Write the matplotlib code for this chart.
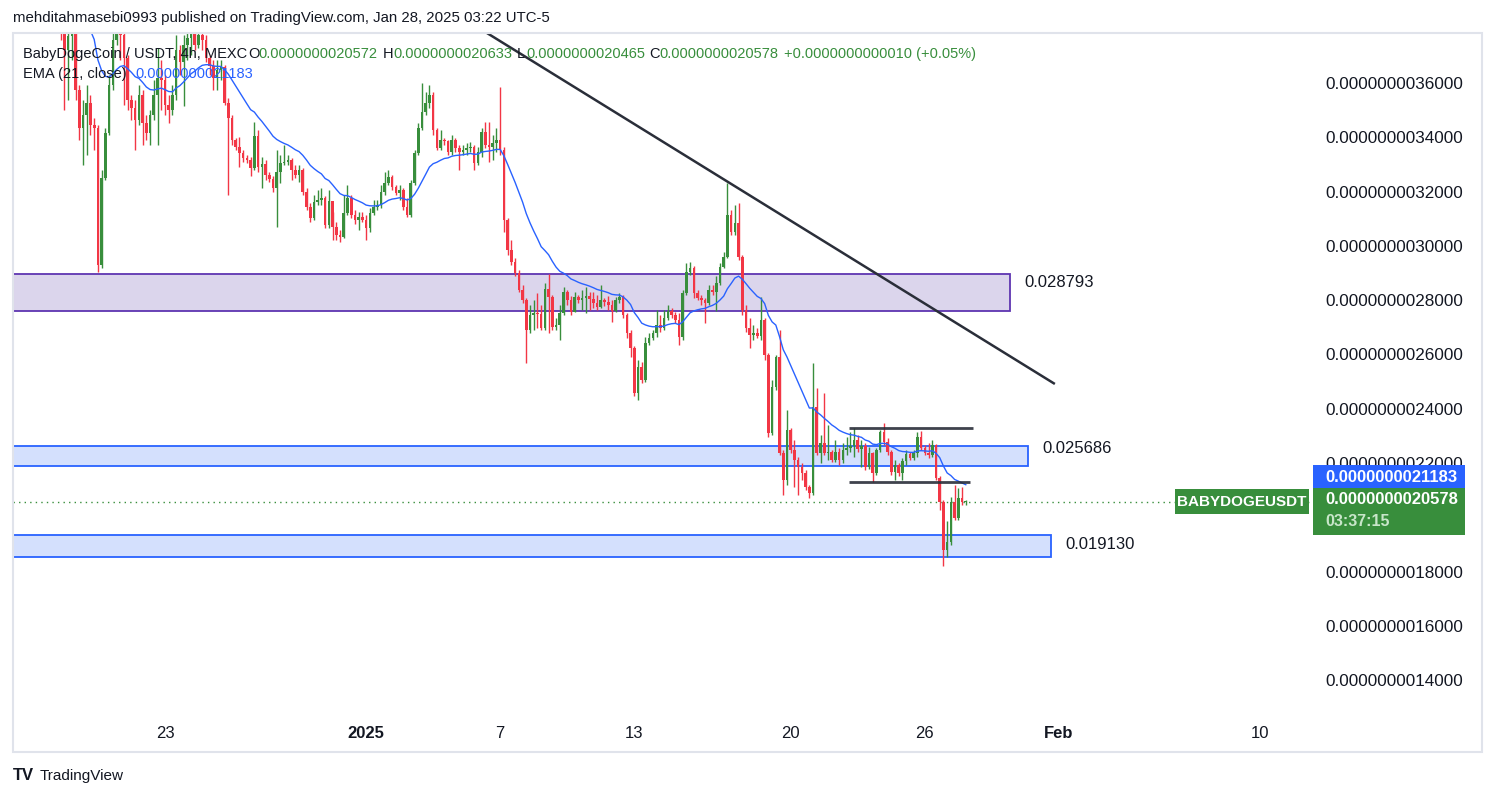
import numpy as np
import pandas as pd
import matplotlib
matplotlib.use("Agg")
import matplotlib.pyplot as plt
import matplotlib.dates as mdates
from matplotlib.patches import Rectangle

plt.rcParams["font.family"] = ["Liberation Sans", "DejaVu Sans"]

# ------------------------------------------------------------
# Data: BabyDogeCoin / USDT, 4h candles (prices in units of 1e-9 USDT)
first_candle = "2024-12-18 08:00"
open0 = 3.814
close = [
    3.795, 3.722, 3.773, 3.788, 3.574, 3.434, 3.482, 3.526, 3.445, 3.434,
    2.929, 3.250, 3.416, 3.593, 3.758, 3.803, 3.777, 3.692, 3.537, 3.508,
    3.464, 3.556, 3.453, 3.416, 3.482, 3.556, 3.618, 3.611, 3.519, 3.501,
    3.556, 3.722, 3.677, 3.740, 3.766, 3.788, 3.740, 3.777, 3.758, 3.692,
    3.663, 3.618, 3.648, 3.659, 3.526, 3.471, 3.390, 3.364, 3.342, 3.324,
    3.316, 3.287, 3.405, 3.291, 3.302, 3.261, 3.246, 3.213, 3.272, 3.305,
    3.309, 3.316, 3.279, 3.261, 3.279, 3.198, 3.143, 3.103, 3.162, 3.169,
    3.176, 3.077, 3.165, 3.069, 3.040, 3.033, 3.121, 3.176, 3.114, 3.095,
    3.106, 3.095, 3.066, 3.121, 3.143, 3.150, 3.198, 3.232, 3.254, 3.217,
    3.195, 3.206, 3.143, 3.114, 3.232, 3.342, 3.434, 3.493, 3.526, 3.556,
    3.427, 3.361, 3.390, 3.386, 3.346, 3.390, 3.361, 3.346, 3.353, 3.361,
    3.364, 3.305, 3.346, 3.419, 3.372, 3.364, 3.379, 3.390, 3.353, 3.095,
    2.985, 2.940, 2.900, 2.837, 2.800, 2.690, 2.745, 2.753, 2.749, 2.697,
    2.841, 2.812, 2.701, 2.708, 2.753, 2.830, 2.800, 2.756, 2.812, 2.800,
    2.808, 2.815, 2.804, 2.789, 2.775, 2.800, 2.793, 2.782, 2.760, 2.800,
    2.812, 2.745, 2.679, 2.624, 2.458, 2.554, 2.506, 2.642, 2.660, 2.679,
    2.708, 2.697, 2.734, 2.760, 2.745, 2.727, 2.664, 2.826, 2.904, 2.918,
    2.826, 2.808, 2.800, 2.789, 2.837, 2.830, 2.863, 2.922, 2.959, 3.114,
    3.051, 3.084, 2.959, 2.764, 2.697, 2.672, 2.679, 2.668, 2.727, 2.598,
    2.310, 2.480, 2.591, 2.237, 2.137, 2.321, 2.248, 2.211, 2.185, 2.163,
    2.111, 2.089, 2.406, 2.237, 2.274, 2.237, 2.240, 2.211, 2.240, 2.211,
    2.248, 2.255, 2.262, 2.285, 2.251, 2.262, 2.185, 2.237, 2.163, 2.248,
    2.314, 2.277, 2.240, 2.167, 2.192, 2.163, 2.207, 2.233, 2.218, 2.237,
    2.296, 2.255, 2.237, 2.229, 2.266, 2.145, 2.056, 1.879, 1.909, 2.056,
    1.997, 2.071, 2.0572, 2.0578,
]
high = [
    3.832, 3.803, 3.814, 3.825, 3.795, 3.593, 3.537, 3.593, 3.556, 3.471,
    3.445, 3.279, 3.434, 3.629, 3.795, 3.832, 3.814, 3.788, 3.703, 3.556,
    3.537, 3.593, 3.574, 3.482, 3.501, 3.611, 3.729, 3.685, 3.629, 3.556,
    3.593, 3.777, 3.740, 3.777, 3.795, 3.814, 3.803, 3.795, 3.795, 3.777,
    3.703, 3.685, 3.685, 3.685, 3.666, 3.545, 3.482, 3.397, 3.401, 3.353,
    3.335, 3.327, 3.456, 3.427, 3.327, 3.316, 3.272, 3.257, 3.353, 3.335,
    3.372, 3.335, 3.324, 3.298, 3.298, 3.287, 3.213, 3.158, 3.187, 3.206,
    3.213, 3.184, 3.206, 3.125, 3.088, 3.058, 3.187, 3.224, 3.187, 3.132,
    3.125, 3.125, 3.114, 3.139, 3.169, 3.169, 3.224, 3.272, 3.279, 3.261,
    3.224, 3.224, 3.213, 3.176, 3.243, 3.353, 3.453, 3.600, 3.567, 3.593,
    3.567, 3.434, 3.427, 3.397, 3.390, 3.408, 3.397, 3.372, 3.372, 3.379,
    3.383, 3.372, 3.364, 3.434, 3.456, 3.456, 3.408, 3.434, 3.585, 3.364,
    3.103, 3.021, 2.955, 2.911, 2.856, 2.808, 2.782, 2.800, 2.826, 2.782,
    2.863, 2.896, 2.819, 2.734, 2.782, 2.848, 2.837, 2.815, 2.830, 2.819,
    2.837, 2.848, 2.830, 2.830, 2.819, 2.856, 2.808, 2.815, 2.800, 2.812,
    2.826, 2.819, 2.753, 2.690, 2.631, 2.579, 2.572, 2.664, 2.679, 2.690,
    2.764, 2.745, 2.764, 2.782, 2.771, 2.756, 2.753, 2.837, 2.937, 2.940,
    2.926, 2.837, 2.819, 2.808, 2.856, 2.856, 2.889, 2.937, 2.977, 3.232,
    3.132, 3.150, 3.158, 2.966, 2.782, 2.734, 2.708, 2.697, 2.812, 2.734,
    2.605, 2.506, 2.598, 2.690, 2.248, 2.395, 2.329, 2.285, 2.222, 2.200,
    2.174, 2.119, 2.568, 2.476, 2.303, 2.458, 2.340, 2.248, 2.285, 2.255,
    2.274, 2.296, 2.314, 2.329, 2.303, 2.285, 2.274, 2.259, 2.240, 2.255,
    2.321, 2.347, 2.292, 2.248, 2.211, 2.200, 2.218, 2.248, 2.240, 2.248,
    2.314, 2.318, 2.266, 2.274, 2.285, 2.270, 2.152, 2.064, 1.986, 2.075,
    2.119, 2.108, 2.111, 2.0633,
]
low = [
    3.758, 3.501, 3.537, 3.685, 3.537, 3.390, 3.298, 3.335, 3.408, 3.353,
    2.904, 2.918, 3.243, 3.408, 3.574, 3.740, 3.685, 3.519, 3.501, 3.464,
    3.353, 3.445, 3.372, 3.390, 3.372, 3.464, 3.372, 3.501, 3.482, 3.453,
    3.482, 3.537, 3.629, 3.515, 3.685, 3.703, 3.722, 3.729, 3.722, 3.677,
    3.629, 3.574, 3.574, 3.611, 3.519, 3.187, 3.372, 3.353, 3.291, 3.309,
    3.305, 3.257, 3.279, 3.272, 3.213, 3.243, 3.235, 3.198, 3.069, 3.232,
    3.298, 3.298, 3.243, 3.250, 3.235, 3.187, 3.132, 3.088, 3.095, 3.150,
    3.150, 3.066, 3.066, 3.021, 3.021, 3.014, 3.029, 3.114, 3.103, 3.080,
    3.058, 3.088, 3.021, 3.051, 3.114, 3.132, 3.139, 3.187, 3.224, 3.206,
    3.187, 3.169, 3.132, 3.106, 3.106, 3.224, 3.335, 3.427, 3.482, 3.508,
    3.408, 3.353, 3.353, 3.372, 3.335, 3.335, 3.346, 3.279, 3.335, 3.335,
    3.346, 3.279, 3.298, 3.327, 3.361, 3.309, 3.316, 3.346, 3.335, 3.051,
    2.966, 2.929, 2.889, 2.830, 2.789, 2.568, 2.679, 2.690, 2.697, 2.690,
    2.690, 2.679, 2.690, 2.690, 2.653, 2.745, 2.782, 2.745, 2.756, 2.789,
    2.764, 2.753, 2.764, 2.771, 2.764, 2.771, 2.778, 2.764, 2.719, 2.756,
    2.789, 2.734, 2.660, 2.591, 2.447, 2.432, 2.495, 2.498, 2.635, 2.653,
    2.664, 2.683, 2.690, 2.727, 2.734, 2.716, 2.635, 2.653, 2.819, 2.893,
    2.808, 2.800, 2.782, 2.716, 2.782, 2.819, 2.760, 2.856, 2.918, 2.955,
    3.040, 3.040, 2.948, 2.745, 2.683, 2.624, 2.653, 2.660, 2.653, 2.579,
    2.296, 2.303, 2.469, 2.229, 2.082, 2.119, 2.237, 2.111, 2.082, 2.137,
    2.100, 2.071, 2.082, 2.229, 2.200, 2.229, 2.211, 2.203, 2.203, 2.192,
    2.200, 2.229, 2.240, 2.222, 2.240, 2.185, 2.174, 2.178, 2.130, 2.156,
    2.240, 2.266, 2.229, 2.156, 2.137, 2.152, 2.137, 2.192, 2.211, 2.211,
    2.222, 2.248, 2.229, 2.218, 2.222, 2.137, 2.027, 1.820, 1.854, 1.898,
    1.990, 1.990, 2.045, 2.0465,
]

ema_length = 21
ema_start = 4.05          # EMA value at the first candle (above the visible area)
ema_last_label = "0.0000000021183"

# zones drawn on the chart: (bottom, top, right edge, label, label price)
zones = [
    (2.760, 2.896, "2025-01-29 19:30", "0.028793", 2.865, "#dbd5ec", "#5e35b1"),
    (2.189, 2.262, "2025-01-30 15:00", "0.025686", 2.252, "#d4e0fd", "#2962ff"),
    (1.853, 1.935, "2025-01-31 15:30", "0.019130", 1.898, "#d4e0fd", "#2962ff"),
]
# trend line and range lines
trend_x = ["2025-01-05 15:30", "2025-01-31 19:40"]
trend_y = [3.823, 2.491]
range_top = (2.329, "2025-01-22 14:30", "2025-01-28 03:30")
range_bot = (2.130, "2025-01-22 14:30", "2025-01-28 00:45")

# 0.0000000020000 sits under the last-price label, so it is not shown
price_ticks = [1.4, 1.6, 1.8, 2.2, 2.4, 2.6, 2.8, 3.0, 3.2, 3.4, 3.6]
time_ticks = ["2024-12-23", "2025-01-01", "2025-01-07", "2025-01-13",
              "2025-01-20", "2025-01-26", "2025-02-01", "2025-02-10"]
time_labels = ["23", "2025", "7", "13", "20", "26", "Feb", "10"]

# ------------------------------------------------------------
GREEN = "#388e3c"
RED = "#f23645"
BLUE = "#2962ff"
TXT = "#131722"
W, H = 1495, 798


def px(x, y):
    return x / W, 1 - y / H


times = pd.date_range(first_candle, periods=len(close), freq="4h")
t = mdates.date2num(times)
c = np.array(close)
o = np.concatenate([[open0], c[:-1]])
hi = np.array(high)
lo = np.array(low)
up = c >= o
cols = np.where(up, GREEN, RED)

alpha = 2 / (ema_length + 1)
ema = [ema_start]
for v in c[1:]:
    ema.append(ema[-1] + alpha * (v - ema[-1]))

fig = plt.figure(figsize=(W / 100, H / 100), dpi=100)
fig.patch.set_facecolor("white")
ax = fig.add_axes([13 / W, 80 / H, 1300 / W, 685 / H])
for s in ax.spines.values():
    s.set_visible(False)

# zones
x_left = mdates.date2num(pd.Timestamp("2024-12-01"))
for bot, top, right, lab, lab_y, fc, ec in zones:
    xr = mdates.date2num(pd.Timestamp(right))
    ax.add_patch(Rectangle((x_left, bot), xr - x_left, top - bot,
                           facecolor=fc, edgecolor=ec, lw=1.3, zorder=1))
    ax.text(xr + 0.65, lab_y, lab, fontsize=12, color=TXT, va="center", ha="left", zorder=6)

# candles
bw = 0.7 / 6
ax.vlines(t, lo, hi, colors=cols, lw=1.0, zorder=2)
ax.bar(t, np.maximum(np.abs(c - o), 0.004), bottom=np.minimum(o, c), width=bw,
       color=cols, zorder=3, linewidth=0)

# EMA
ax.plot(t, ema, color=BLUE, lw=1.0, zorder=4)

# trend line + range
ax.plot(mdates.date2num(pd.to_datetime(trend_x)), trend_y, color="#2a2e39", lw=1.8, zorder=5,
        solid_capstyle="butt")
for lvl, a, b in (range_top, range_bot):
    ax.plot(mdates.date2num(pd.to_datetime([a, b])), [lvl, lvl], color="#2a2e39", lw=2.0,
            alpha=0.9, zorder=5, solid_capstyle="butt")

# last price dotted line
ax.axhline(close[-1], color=GREEN, lw=1.0, ls=(0, (1, 3)), zorder=2)

ax.set_xlim(mdates.date2num(pd.Timestamp("2025-01-01")) - 15.80,
            mdates.date2num(pd.Timestamp("2025-01-01")) + 42.37)
ax.set_ylim(1.2603, 3.7842)

ax.yaxis.tick_right()
ax.set_yticks(price_ticks)
ax.set_yticklabels([f"{v * 1e-9:.13f}" for v in price_ticks])
ax.tick_params(axis="y", length=0, pad=8.6, labelsize=12.3, labelcolor=TXT)
ax.set_xticks(mdates.date2num(pd.to_datetime(time_ticks)))
ax.set_xticklabels(time_labels)
ax.tick_params(axis="x", length=0, pad=6, labelsize=12, labelcolor=TXT)
for lab in ax.get_xticklabels():
    if lab.get_text() in ("2025", "Feb"):
        lab.set_fontweight("bold")

# frame around the chart
fig.patches.append(Rectangle(px(13, 752), 1469 / W, 719 / H, transform=fig.transFigure,
                             fill=False, edgecolor="#e0e3eb", lw=1.5, zorder=0))

# header
fig.text(*px(13, 18), "mehditahmasebi0993 published on TradingView.com, Jan 28, 2025 03:22 UTC-5",
         fontsize=10.8, color=TXT, va="center")

# legend
legend = [
    (23, "BabyDogeCoin / USDT, 4h, MEXC", TXT), (248, "O", TXT), (258, "0.0000000020572", GREEN),
    (383, "H", TXT), (393, "0.0000000020633", GREEN), (517, "L", TXT), (526, "0.0000000020465", GREEN),
    (649, "C", TXT), (659, "0.0000000020578", GREEN), (784, "+0.0000000000010 (+0.05%)", GREEN),
]
for x, s, col in legend:
    fig.text(*px(x, 54), s, fontsize=10.5, color=col, va="center", zorder=10)
fig.text(*px(23, 74), "EMA (21, close)", fontsize=10.5, color=TXT, va="center", zorder=10)
fig.text(*px(135, 74), ema_last_label, fontsize=10.5, color=BLUE, va="center", zorder=10)

# price scale labels
fig.patches.append(Rectangle(px(1313, 488), 152 / W, 23 / H, transform=fig.transFigure,
                             facecolor=BLUE, edgecolor="none", zorder=5))
fig.text(*px(1325, 477), ema_last_label, fontsize=12, color="white", fontweight="bold",
         va="center", zorder=6)
fig.patches.append(Rectangle(px(1313, 535), 152 / W, 47 / H, transform=fig.transFigure,
                             facecolor=GREEN, edgecolor="none", zorder=5))
fig.text(*px(1325, 499), f"{close[-1] * 1e-9:.13f}", fontsize=12, color="white",
         fontweight="bold", va="center", zorder=6)
fig.text(*px(1325, 522), "03:37:15", fontsize=11.5, color="#c8e6c9", fontweight="bold",
         va="center", zorder=6)
fig.patches.append(Rectangle(px(1175, 514), 134 / W, 25 / H, transform=fig.transFigure,
                             facecolor=GREEN, edgecolor="none", zorder=5))
fig.text(*px(1242, 502), "BABYDOGEUSDT", fontsize=11, color="white", fontweight="bold",
         va="center", ha="center", zorder=6)

# footer logo
fig.text(*px(13, 776), "TV", fontsize=12, color=TXT, fontweight="heavy", va="center")
fig.text(*px(40, 776), "TradingView", fontsize=11, color=TXT, va="center")

fig.savefig("out.png", dpi=100, facecolor="white")
